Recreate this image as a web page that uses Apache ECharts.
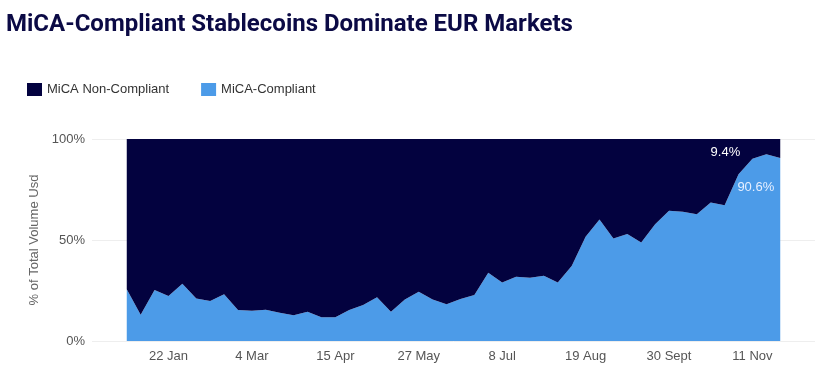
<!DOCTYPE html>
<html>
<head>
<meta charset="utf-8">
<script src="https://cdn.jsdelivr.net/npm/echarts@6/dist/echarts.min.js"></script>
<style>html,body{margin:0;padding:0;background:#fff}#c{width:832px;height:383px}</style>
</head>
<body>
<div id="c"></div>
<script>
var titleText = 'MiCA-Compliant Stablecoins Dominate EUR Markets';
var seriesNames = ['MiCA Non-Compliant', 'MiCA-Compliant'];
var weeks = ['2024-01-01','2024-01-08','2024-01-15','2024-01-22','2024-01-29','2024-02-05','2024-02-12','2024-02-19',
  '2024-02-26','2024-03-04','2024-03-11','2024-03-18','2024-03-25','2024-04-01','2024-04-08','2024-04-15',
  '2024-04-22','2024-04-29','2024-05-06','2024-05-13','2024-05-20','2024-05-27','2024-06-03','2024-06-10',
  '2024-06-17','2024-06-24','2024-07-01','2024-07-08','2024-07-15','2024-07-22','2024-07-29','2024-08-05',
  '2024-08-12','2024-08-19','2024-08-26','2024-09-02','2024-09-09','2024-09-16','2024-09-23','2024-09-30',
  '2024-10-07','2024-10-14','2024-10-21','2024-10-28','2024-11-04','2024-11-11','2024-11-18','2024-11-25'];
var compliant = [25.6,13.0,25.2,22.3,28.4,21.1,19.8,23.1,15.3,15.0,15.5,14.0,12.8,14.5,11.7,11.7,
  15.3,17.8,21.6,14.5,20.6,24.4,20.6,18.2,20.8,22.8,33.8,28.9,31.8,31.3,32.3,28.9,
  37.1,51.6,60.2,50.8,53.0,48.8,57.8,64.5,64.0,62.8,68.6,67.2,82.6,90.2,92.4,90.6];
var nonCompliant = [74.4,87.0,74.8,77.7,71.6,78.9,80.2,76.9,84.7,85.0,84.5,86.0,87.2,85.5,88.3,88.3,
  84.7,82.2,78.4,85.5,79.4,75.6,79.4,81.8,79.2,77.2,66.2,71.1,68.2,68.7,67.7,71.1,
  62.9,48.4,39.8,49.2,47.0,51.2,42.2,35.5,36.0,37.2,31.4,32.8,17.4,9.8,7.6,9.4];
var tickDates = ['2024-01-22','2024-03-04','2024-04-15','2024-05-27','2024-07-08','2024-08-19','2024-09-30','2024-11-11'];
var tickLabels = ['22 Jan','4 Mar','15 Apr','27 May','8 Jul','19 Aug','30 Sept','11 Nov'];

var DAY = 86400000, WEEK = 7 * DAY;
function toMs(s) { var p = s.split('-'); return Date.UTC(+p[0], +p[1] - 1, +p[2]); }
var xs = weeks.map(toMs);
var tickXs = tickDates.map(toMs);
var last = weeks.length - 1;
var xMin = xs[0] - 2.5 * WEEK;
var xMax = xs[last] + 2.5 * WEEK;
// label axis measured in days from xMin, same span as the time axis
var tickDays = tickXs.map(function (t) { return (t - xMin) / DAY; });
var spanDays = (xMax - xMin) / DAY;

function pairs(vals) { return vals.map(function (v, i) { return [xs[i], v]; }); }
function endFmt(p) { return p.value[1].toFixed(1) + '%'; }

var chart = echarts.init(document.getElementById('c'), null, { renderer: 'canvas' });
chart.setOption({
  animation: false,
  title: {
    text: titleText, left: 6, top: 13, padding: 0,
    textStyle: { fontFamily: 'Roboto', fontWeight: 'bold', fontSize: 24, color: '#0b0a45' }
  },
  legend: {
    data: seriesNames, left: 27, top: 83, padding: 0,
    itemWidth: 15, itemHeight: 13, itemGap: 32, icon: 'rect',
    textStyle: { fontFamily: 'Liberation Sans', fontSize: 13, color: '#333' }
  },
  grid: { left: 92, right: 17, top: 139, bottom: 42 },
  xAxis: [
    {
      type: 'time', min: xMin, max: xMax, show: false,
      splitLine: { show: false }
    },
    {
      type: 'value', min: 0, max: spanDays, position: 'bottom',
      axisLine: { show: false }, axisTick: { show: false }, splitLine: { show: false },
      axisLabel: {
        customValues: tickDays, margin: 9,
        fontFamily: 'Liberation Sans', fontSize: 13, color: '#555',
        formatter: function (v) {
          for (var i = 0; i < tickDays.length; i++) if (Math.abs(tickDays[i] - v) < 0.5) return tickLabels[i];
          return '';
        }
      }
    }
  ],
  yAxis: {
    type: 'value', min: 0, max: 100, interval: 50,
    name: '% of Total Volume Usd', nameLocation: 'middle', nameGap: 40, nameRotate: 90,
    nameTextStyle: { fontFamily: 'Liberation Sans', fontSize: 13, color: '#666' },
    axisLine: { show: false }, axisTick: { show: false },
    splitLine: { lineStyle: { color: '#eeeeee', width: 1 } },
    axisLabel: {
      margin: 7, fontFamily: 'Liberation Sans', fontSize: 13, color: '#555',
      formatter: function (v) { return v + '%'; }
    }
  },
  series: [
    {
      name: seriesNames[1], type: 'line', stack: 'total', showSymbol: false, symbol: 'none',
      xAxisIndex: 0,
      lineStyle: { width: 0 }, color: '#4c9be8',
      areaStyle: { color: '#4c9be8', opacity: 1 },
      endLabel: {
        show: true, formatter: endFmt, distance: 0, offset: [-6, 29],
        align: 'right', verticalAlign: 'middle',
        fontFamily: 'Liberation Sans', fontSize: 13, color: '#e6efff'
      },
      z: 2,
      data: pairs(compliant)
    },
    {
      name: seriesNames[0], type: 'line', stack: 'total', showSymbol: false, symbol: 'none',
      xAxisIndex: 0,
      lineStyle: { width: 0 }, color: '#03023f',
      areaStyle: { color: '#03023f', opacity: 1 },
      endLabel: {
        show: true, formatter: endFmt, distance: 0, offset: [-40, 13],
        align: 'right', verticalAlign: 'middle',
        fontFamily: 'Liberation Sans', fontSize: 13, color: '#ffffff'
      },
      z: 2,
      data: pairs(nonCompliant)
    }
  ]
});
</script>
</body>
</html>
